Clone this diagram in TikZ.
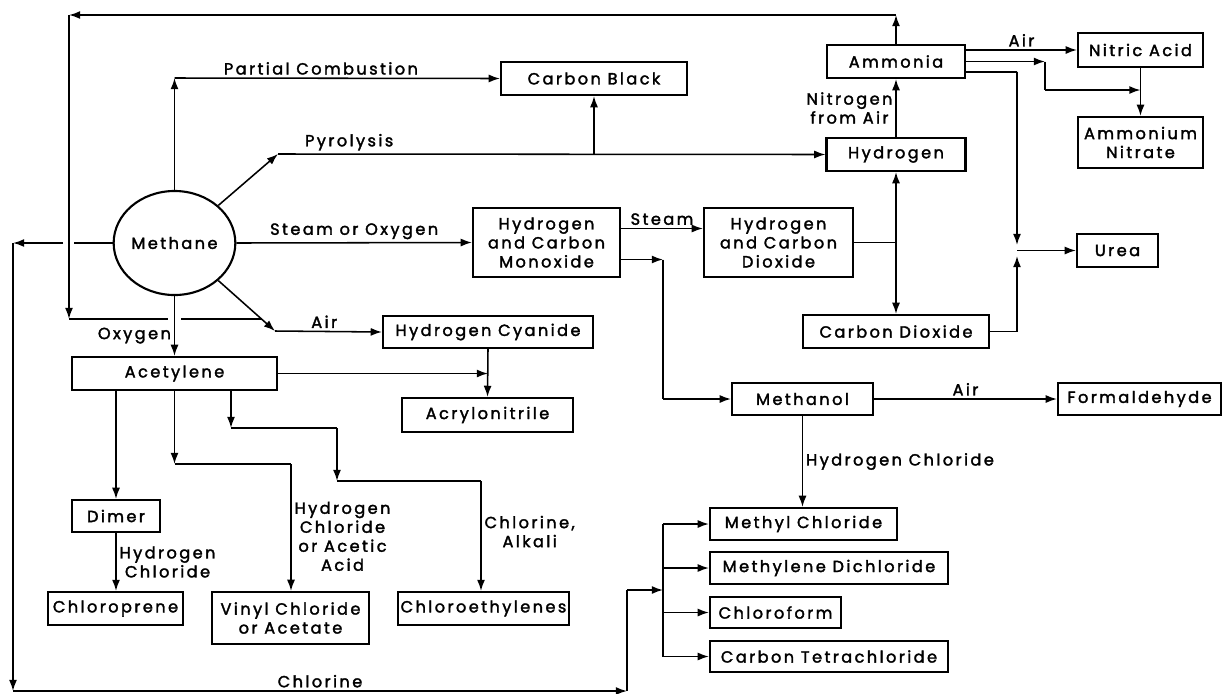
\documentclass[tikz,border=0pt]{standalone}
\usepackage{fontspec}
\setmainfont{Poppins}[LetterSpace=15,FakeBold=2]
\usetikzlibrary{arrows,arrows.meta,calc,positioning,shapes}

\begin{document}
\begin{tikzpicture}[auto,>={Latex[length=2.8mm,width=2mm]},x=0.025cm,y=-0.025cm,line width=1.1pt,font=\fontsize{11.5}{13.5}\selectfont]
	\tikzstyle{block} = [draw, rectangle, line width=1.5pt, minimum height=0.825cm, inner sep=2pt, align=center]
	\tikzstyle{note} = [inner sep=2pt, align=center]
	\useasboundingbox (0,0) rectangle (1224,693);

	\node [draw, ellipse, line width=1.5pt, minimum width=3.025cm, minimum height=2.6cm, inner sep=0pt] (methane) at (174.5,243) {Methane};

	\node [block, minimum width=4.65cm] (carbonblack) at (594,78.5) {Carbon Black};
	\node [block, minimum width=3.45cm] (ammonia) at (896,61.5) {Ammonia};
	\node [block, minimum width=3.475cm] (hydrogen) at (896,154.5) {Hydrogen};
	\node [block, minimum width=3.125cm, minimum height=0.85cm] (nitric) at (1140.5,50) {Nitric Acid};
	\node [block, minimum width=3.125cm, minimum height=1.275cm] (ammnitrate) at (1140.5,142.5) {Ammonium\\Nitrate};
	\node [block, minimum width=3.675cm, minimum height=1.725cm] (hcm) at (546.5,242.5) {Hydrogen\\and Carbon\\Monoxide};
	\node [block, minimum width=3.725cm, minimum height=1.725cm] (hcd) at (778.5,242.5) {Hydrogen\\and Carbon\\Dioxide};
	\node [block, minimum width=2.025cm] (urea) at (1117.5,250.5) {Urea};
	\node [block, minimum width=4.65cm] (co2) at (896,331.5) {Carbon Dioxide};
	\node [block, minimum width=5.25cm, minimum height=0.8cm] (hcn) at (488,332) {Hydrogen Cyanide};
	\node [block, minimum width=5.125cm] (acetylene) at (174.5,373.5) {Acetylene};
	\node [block, minimum width=4.275cm, minimum height=0.85cm] (acrylo) at (487.5,415) {Acrylonitrile};
	\node [block, minimum width=3.525cm, minimum height=0.8cm] (methanol) at (802.5,399) {Methanol};
	\node [block, minimum width=4.075cm, minimum height=0.8cm] (formaldehyde) at (1139.5,399) {Formaldehyde};
	\node [block, minimum width=2.2cm, minimum height=0.8cm] (dimer) at (116,516) {Dimer};
	\node [block, minimum width=3.375cm] (chloroprene) at (115.5,608.5) {Chloroprene};
	\node [block, minimum width=3.925cm, minimum height=1.3cm] (vinyl) at (290.5,618) {Vinyl Chloride\\or Acetate};
	\node [block, minimum width=4.275cm] (chloroeth) at (483.5,608.5) {Chloroethylenes};
	\node [block, minimum width=4.675cm, minimum height=0.8cm] (mecl) at (803.5,524) {Methyl Chloride};
	\node [block, minimum width=5.95cm, minimum height=0.8cm] (mdc) at (829,568) {Methylene Dichloride};
	\node [block, minimum width=3.275cm, minimum height=0.775cm] (chcl3) at (775.5,612.5) {Chloroform};
	\node [block, minimum width=5.95cm, minimum height=0.775cm] (cctet) at (829,656.5) {Carbon Tetrachloride};

	% corner points
	\coordinate (cpc) at (174.5,78);
	\coordinate (cpy) at (278,154);
	\coordinate (ccb) at (594,154);
	\coordinate (cair) at (275,331);
	\coordinate (cac) at (488,373.5);
	\coordinate (ca1) at (896,15);
	\coordinate (ca2) at (69,15);
	\coordinate (ca3) at (69,319);
	\coordinate (cgap3) at (168,319);
	\coordinate (cgap4) at (181,319);
	\coordinate (cjoin) at (261,319);
	\coordinate (cgap1) at (74,243);
	\coordinate (cgap2) at (63,243);
	\coordinate (cl1) at (13,243);
	\coordinate (cl2) at (13,691);
	\coordinate (cl3) at (627,691);
	\coordinate (cl4) at (627,590);
	\coordinate (cbus) at (663,590);
	\coordinate (cn1) at (1045,61.5);
	\coordinate (cn2) at (1045,90);
	\coordinate (cn3) at (1140.5,90);
	\coordinate (cu1) at (1017,72);
	\coordinate (cu2) at (1017,245);
	\coordinate (cu3) at (1017,331.5);
	\coordinate (cu4) at (1017,256);
	\coordinate (cu5) at (1017,250.5);
	\coordinate (ch1) at (896,242.5);
	\coordinate (cm1) at (663,259.5);
	\coordinate (cm2) at (663,399);
	\coordinate (cv1) at (174.5,464);
	\coordinate (cv2) at (291,464);
	\coordinate (ce1) at (231,390);
	\coordinate (ce2) at (231,428);
	\coordinate (ce3) at (337,428);
	\coordinate (ce4) at (337,481);
	\coordinate (ce5) at (481,481);

	% from methane
	\draw [->] (methane.north) -- (cpc);
	\draw [->] (cpc) -- node[note, pos=0.45]{Partial Combustion} (carbonblack.west);
	\draw [->] (methane.north east) -- (cpy);
	\draw [->] (cpy) -- node[note, pos=0.13]{Pyrolysis} (hydrogen.west);
	\draw [->] (ccb) -- (carbonblack.south);
	\draw [->] (methane.east) -- node[note]{Steam or Oxygen} (hcm.west);
	\draw [->] (methane.south east) -- (cair);
	\draw [->] (cair) -- node[note, pos=0.46]{Air} (hcn.west);
	\draw [->] (methane.south) -- node[note, pos=0.66, left]{Oxygen} (acetylene.north);

	% ammonia back to hydrogen cyanide
	\draw [->] (ammonia.north) -- (ca1);
	\draw [->] (ca1) -- (ca2);
	\draw [->] (ca2) -- (ca3);
	\draw [-] (ca3) -- (cgap3);
	\draw [-] (cgap4) -- (cjoin);

	% chlorine loop
	\draw [-] (methane.west) -- (cgap1);
	\draw [->] (cgap2) -- (cl1);
	\draw [->] (cl1) -- (cl2);
	\draw [->] (cl2) -- node[note]{Chlorine} (cl3);
	\draw [-] (cl3) -- (cl4);
	\draw [->] (cl4) -- (cbus);
	\draw [-] (cbus |- mecl.west) -- (cbus |- cctet.west);
	\foreach \n in {mecl,mdc,chcl3,cctet}
		\draw [->] (cbus |- \n.west) -- (\n.west);

	% synthesis gas
	\draw [->] ($(hcm.east)+(0,-14)$) -- node[note]{Steam} ($(hcd.west)+(0,-14)$);
	\draw [->] ($(hcm.east)+(0,17)$) -- (cm1);
	\draw [-] (cm1) -- (cm2);
	\draw [->] (cm2) -- (methanol.west);
	\draw [-] (hcd.east) -- (ch1);
	\draw [->] (ch1) -- (hydrogen.south);
	\draw [->] (ch1) -- (co2.north);
	\draw [->] (hydrogen.north) -- node[note, left]{Nitrogen\\from Air} (ammonia.south);

	% ammonia products
	\draw [->] (ammonia.east |- nitric.west) -- node[note]{Air} (nitric.west);
	\draw [->] (ammonia.east) -- (cn1);
	\draw [-] (cn1) -- (cn2);
	\draw [->] (cn2) -- (cn3);
	\draw [->] (nitric.south) -- (ammnitrate.north);
	\draw [-] ($(ammonia.east)+(0,10.5)$) -- (cu1);
	\draw [->] (cu1) -- (cu2);
	\draw [-] (co2.east) -- (cu3);
	\draw [->] (cu3) -- (cu4);
	\draw [->] (cu5) -- (urea.west);

	% methanol products
	\draw [->] (methanol.east) -- node[note]{Air} (formaldehyde.west);
	\draw [->] (methanol.south) -- node[note, right]{Hydrogen Chloride} (methanol.south |- mecl.north);

	% acetylene products
	\draw [->] (acetylene.east) -- (cac);
	\draw [->] (hcn.south) -- (acrylo.north);
	\draw [->] (acetylene.south -| dimer.north) -- (dimer.north);
	\draw [->] (dimer.south) -- node[note, right]{Hydrogen\\Chloride} (dimer.south |- chloroprene.north);
	\draw [->] (acetylene.south) -- (cv1);
	\draw [-] (cv1) -- (cv2);
	\draw [->] (cv2) -- node[note, pos=0.57, right]{Hydrogen\\Chloride\\or Acetic\\Acid} (cv2 |- vinyl.north);
	\draw [->] (ce1) -- (ce2);
	\draw [-] (ce2) -- (ce3);
	\draw [->] (ce3) -- (ce4);
	\draw [-] (ce4) -- (ce5);
	\draw [->] (ce5) -- node[note, pos=0.46, right]{Chlorine,\\Alkali} (ce5 |- chloroeth.north);
\end{tikzpicture}
\end{document}
